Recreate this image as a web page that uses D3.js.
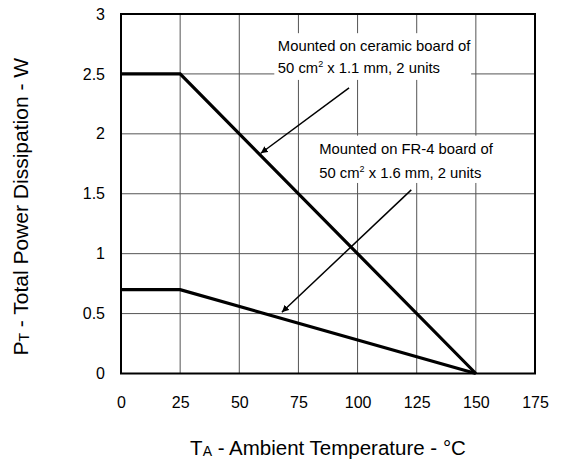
<!DOCTYPE html>
<meta charset="utf-8">
<script src="https://d3js.org/d3.v7.min.js"></script>
<style>
body { margin: 0; background: #fff; }
text { font-family: Arial, "Liberation Sans", sans-serif; fill: #000; }
</style>
<div id="chart"></div>
<script>
// chart data
const ceramicTemp = [0, 25, 150];
const ceramicPower = [2.5, 2.5, 0];
const fr4Temp = [0, 25, 150];
const fr4Power = [0.7, 0.7, 0];
const xTicks = [0, 25, 50, 75, 100, 125, 150, 175];
const yTicks = [0, 0.5, 1, 1.5, 2, 2.5, 3];

const margin = {top: 14, right: 26, bottom: 91.5, left: 121},
    width = 561 - margin.left - margin.right,
    height = 465 - margin.top - margin.bottom;

const svg = d3.select("#chart")
  .append("svg")
    .attr("width", 561)
    .attr("height", 465)
  .append("g")
    .attr("transform", `translate(${margin.left},${margin.top})`);

const x = d3.scaleLinear().domain([0, 175]).range([0, width]);
const y = d3.scaleLinear().domain([0, 3]).range([height, 0]);

// grid
svg.append("g")
  .selectAll("line.vg")
  .data(xTicks)
  .join("line")
    .attr("x1", d => x(d)).attr("x2", d => x(d))
    .attr("y1", 0).attr("y2", height)
    .attr("stroke", "#555").attr("stroke-width", 1);
svg.append("g")
  .selectAll("line.hg")
  .data(yTicks)
  .join("line")
    .attr("y1", d => y(d)).attr("y2", d => y(d))
    .attr("x1", 0).attr("x2", width)
    .attr("stroke", "#555").attr("stroke-width", 1);

// axes (labels only)
const xAxis = svg.append("g")
  .attr("transform", `translate(0,${height})`)
  .call(d3.axisBottom(x).tickValues(xTicks).tickSize(0).tickPadding(23).tickFormat(d3.format("")));
const yAxis = svg.append("g")
  .call(d3.axisLeft(y).tickValues(yTicks).tickSize(0).tickPadding(16).tickFormat(d3.format("")));
[xAxis, yAxis].forEach(a => {
  a.select(".domain").remove();
  a.selectAll("text").attr("font-size", 16).attr("font-family", "Arial, 'Liberation Sans', sans-serif").attr("fill", "#000");
});

// label boxes to hide the grid behind notes
const notes = [
  {x: 66.3, y1: 2.692, y2: 2.508, box: [64.8, 148, 2.84, 2.45], line1: "Mounted on ceramic board of", spec: "1.1"},
  {x: 83.8, y1: 1.832, y2: 1.632, box: [82.5, 160, 1.985, 1.59], line1: "Mounted on FR-4 board of", spec: "1.6"}
];
notes.forEach(n => {
  svg.append("rect")
    .attr("x", x(n.box[0])).attr("y", y(n.box[2]))
    .attr("width", x(n.box[1]) - x(n.box[0]))
    .attr("height", y(n.box[3]) - y(n.box[2]))
    .attr("fill", "#fff");
});

// frame
svg.append("rect")
  .attr("width", width).attr("height", height)
  .attr("fill", "none").attr("stroke", "#000").attr("stroke-width", 2);

// curves
const line = d3.line().x(d => x(d[0])).y(d => y(d[1]));
[[ceramicTemp, ceramicPower], [fr4Temp, fr4Power]].forEach(s => {
  svg.append("path")
    .datum(d3.zip(s[0], s[1]))
    .attr("d", line)
    .attr("fill", "none")
    .attr("stroke", "#000")
    .attr("stroke-width", 3.2)
    .attr("stroke-linejoin", "miter");
});

// notes text
notes.forEach(n => {
  const t = svg.append("g").attr("font-size", 14.8);
  t.append("text").attr("x", x(n.x)).attr("y", y(n.y1)).text(n.line1);
  const t2 = t.append("text").attr("x", x(n.x)).attr("y", y(n.y2));
  t2.append("tspan").text("50 cm");
  t2.append("tspan").attr("font-size", 9).attr("dy", -6).text("2");
  t2.append("tspan").attr("dy", 6).text(` x ${n.spec} mm, 2 units`);
});

// arrows
svg.append("defs").append("marker")
  .attr("id", "ah")
  .attr("viewBox", "0 0 10 10")
  .attr("refX", 10).attr("refY", 5)
  .attr("markerWidth", 7).attr("markerHeight", 7)
  .attr("markerUnits", "userSpaceOnUse")
  .attr("orient", "auto")
  .append("path").attr("d", "M0,0 L10,5 L0,10 z").attr("fill", "#000");

const arrows = [
  {from: [96.4, 2.383], to: [59.1, 1.838]},
  {from: [122.7, 1.532], to: [68.0, 0.511]}
];
svg.selectAll("line.arrow")
  .data(arrows)
  .join("line")
    .attr("x1", d => x(d.from[0])).attr("y1", d => y(d.from[1]))
    .attr("x2", d => x(d.to[0])).attr("y2", d => y(d.to[1]))
    .attr("stroke", "#000").attr("stroke-width", 1.5)
    .attr("marker-end", "url(#ah)");

// axis titles
const xt = svg.append("text")
  .attr("x", width / 2).attr("y", height + 81)
  .attr("text-anchor", "middle").attr("font-size", 20.5);
xt.append("tspan").text("T");
xt.append("tspan").attr("font-size", 14).attr("dy", 1).text("A");
xt.append("tspan").attr("dy", -1).text(" - Ambient Temperature - °C");

const yt = svg.append("text")
  .attr("transform", `translate(${28 - margin.left},${height / 2 + 13}) rotate(-90)`)
  .attr("text-anchor", "middle").attr("font-size", 21);
yt.append("tspan").text("P");
yt.append("tspan").attr("font-size", 14).attr("dy", 1).text("T");
yt.append("tspan").attr("dy", -1).text(" - Total Power Dissipation - W");
</script>
